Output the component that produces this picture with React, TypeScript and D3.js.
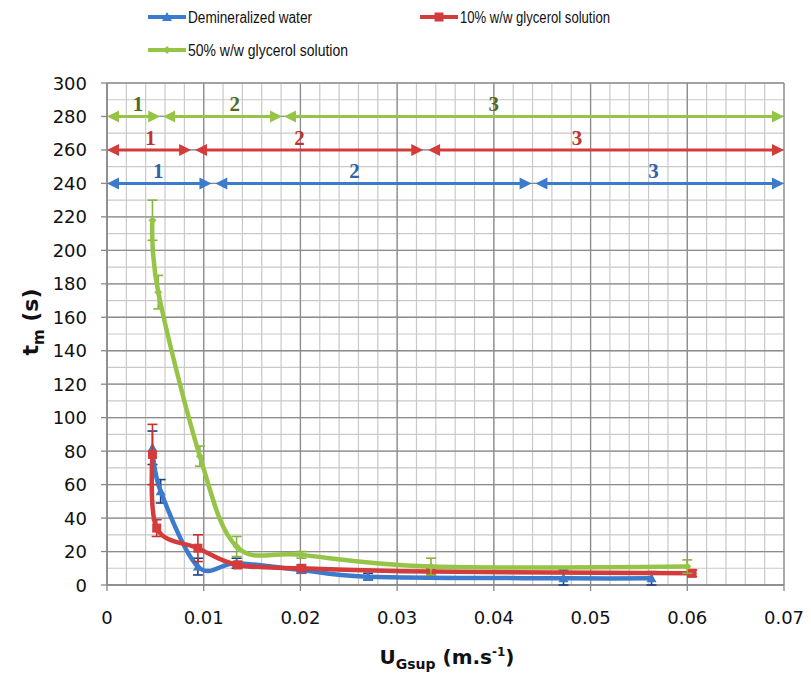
import React from "react";
import * as d3 from "d3";

// ---- data ----
const blueX = [0.0047, 0.00555, 0.0094, 0.0134, 0.0201, 0.027, 0.0472, 0.0563];
const blueY = [82, 56, 11, 13, 9, 5, 4, 4];
const blueErr = [10, 7, 5, 3, 2, 2, 5, 4];

const redX = [0.0047, 0.00514, 0.0094, 0.0135, 0.0201, 0.0335, 0.0605];
const redY = [78, 34, 22, 12, 10, 8, 7];
const redErr = [18, 5, 8, 2, 2, 2, 2];

const greenX = [0.0047, 0.0053, 0.0096, 0.0134, 0.0201, 0.0335, 0.06];
const greenY = [218, 175, 77, 23, 18, 11, 11];
const greenErr = [12, 10, 6, 6, 2, 5, 4];

const xTicks = [0, 0.01, 0.02, 0.03, 0.04, 0.05, 0.06, 0.07];
const yTicks = [0, 20, 40, 60, 80, 100, 120, 140, 160, 180, 200, 220, 240, 260, 280, 300];

const seriesNames = ["Demineralized water", "10% w/w glycerol solution", "50% w/w glycerol solution"];

// regime arrows: level, segments, label positions
const greenLevel = 280;
const greenSegs = [[0, 0.0055], [0.0058, 0.0181], [0.0183, 0.07]];
const greenLabelX = [0.0032, 0.0132, 0.04];
const redLevel = 260;
const redSegs = [[0, 0.0087], [0.0091, 0.0327], [0.0332, 0.07]];
const redLabelX = [0.0045, 0.0199, 0.0486];
const blueLevel = 240;
const blueSegs = [[0, 0.0108], [0.0112, 0.0439], [0.0443, 0.07]];
const blueLabelX = [0.0053, 0.0256, 0.0565];
const regimeLabels = ["1", "2", "3"];

const W = 811, H = 676;
const X0 = 107, X1 = 784, Y0 = 585, Y1 = 83;

const BLUE = "#3c7bcc";
const RED = "#d33c3a";
const GREEN = "#96c447";

export default function App() {
  const x = d3.scaleLinear().domain([0, 0.07]).range([X0, X1]);
  const y = d3.scaleLinear().domain([0, 300]).range([Y0, Y1]);

  const minorX = d3.range(0, 0.07 + 1e-9, 0.002);
  const minorY = d3.range(0, 301, 10);

  const line = d3
    .line<[number, number]>()
    .x((d) => x(d[0]))
    .y((d) => y(d[1]))
    .curve(d3.curveCardinal.tension(0));

  const series = [
    { xs: blueX, ys: blueY, err: blueErr, color: BLUE, errColor: "#1f3f80", marker: "tri" },
    { xs: redX, ys: redY, err: redErr, color: RED, errColor: "#c8302c", marker: "sq" },
    { xs: greenX, ys: greenY, err: greenErr, color: GREEN, errColor: "#86b43c", marker: "dia" },
  ];

  const arrows = [
    { level: blueLevel, segs: blueSegs, lx: blueLabelX, color: BLUE, tcolor: "#2f63a8" },
    { level: redLevel, segs: redSegs, lx: redLabelX, color: RED, tcolor: "#bf3330" },
    { level: greenLevel, segs: greenSegs, lx: greenLabelX, color: GREEN, tcolor: "#4f6b22" },
  ];

  const marker = (type: string, cx: number, cy: number, color: string, key: string) => {
    if (type === "tri") {
      const s = 5;
      return <path key={key} d={`M${cx},${cy - s}L${cx + s},${cy + s * 0.8}L${cx - s},${cy + s * 0.8}Z`} fill={color} />;
    }
    if (type === "sq") {
      const s = 4.5;
      return <rect key={key} x={cx - s} y={cy - s} width={2 * s} height={2 * s} fill={color} />;
    }
    const s = 4;
    return <path key={key} d={`M${cx},${cy - s}L${cx + s},${cy}L${cx},${cy + s}L${cx - s},${cy}Z`} fill={color} />;
  };

  const arrowHead = (tipX: number, yy: number, dir: number, color: string, key: string) => {
    const L = 12, hw = 6;
    return <path key={key} d={`M${tipX},${yy}L${tipX - dir * L},${yy - hw}L${tipX - dir * L},${yy + hw}Z`} fill={color} />;
  };

  const legendFont = "'Liberation Sans Narrow', 'Arial Narrow', 'Liberation Sans', sans-serif";

  return (
    <svg width={W} height={H} style={{ position: "absolute", left: 0, top: 0, background: "#fff" }}>
      <rect width={W} height={H} fill="#fff" />
      {/* minor grid */}
      {minorX.map((v, i) => (
        <line key={"mx" + i} x1={x(v)} x2={x(v)} y1={Y1} y2={Y0} stroke="#c9c9c9" strokeWidth={1.2} />
      ))}
      {minorY.map((v, i) => (
        <line key={"my" + i} x1={X0} x2={X1} y1={y(v)} y2={y(v)} stroke="#c9c9c9" strokeWidth={1.2} />
      ))}
      {/* major grid */}
      {xTicks.map((v, i) => (
        <line key={"Mx" + i} x1={x(v)} x2={x(v)} y1={Y1} y2={Y0} stroke="#8c8c8c" strokeWidth={1.3} />
      ))}
      {yTicks.map((v, i) => (
        <line key={"My" + i} x1={X0} x2={X1} y1={y(v)} y2={y(v)} stroke="#8c8c8c" strokeWidth={1.3} />
      ))}
      {/* axes */}
      <line x1={X0} x2={X0} y1={Y1} y2={Y0} stroke="#888" strokeWidth={1.5} />
      <line x1={X0} x2={X1} y1={Y0} y2={Y0} stroke="#888" strokeWidth={1.5} />
      {yTicks.map((v, i) => (
        <line key={"yt" + i} x1={X0 - 6} x2={X0} y1={y(v)} y2={y(v)} stroke="#888" strokeWidth={1.3} />
      ))}
      {xTicks.map((v, i) => (
        <line key={"xt" + i} x1={x(v)} x2={x(v)} y1={Y0} y2={Y0 + 6} stroke="#888" strokeWidth={1.3} />
      ))}
      {yTicks.map((v, i) => (
        <text key={"yl" + i} x={87} y={y(v) + 6.5} textAnchor="end" fontFamily="'DejaVu Sans', Verdana, sans-serif" fontSize={18} fill="#111">
          {v}
        </text>
      ))}
      {xTicks.map((v, i) => (
        <text key={"xl" + i} x={x(v)} y={624} textAnchor="middle" fontFamily="'DejaVu Sans', Verdana, sans-serif" fontSize={18} fill="#111">
          {v === 0 ? "0" : v.toFixed(2)}
        </text>
      ))}
      {/* axis titles */}
      <text transform="translate(38,322) rotate(-90)" textAnchor="middle" fontFamily="'DejaVu Sans', Verdana, sans-serif" fontWeight="bold" fontSize={22} fill="#111">
        t<tspan fontSize={15} dy={6}>m</tspan>
        <tspan dy={-6}> (s)</tspan>
      </text>
      <text x={447} y={664} textAnchor="middle" fontFamily="'DejaVu Sans', Verdana, sans-serif" fontWeight="bold" fontSize={20} fill="#111">
        U<tspan fontSize={14} dy={5}>Gsup</tspan>
        <tspan dy={-5}> (m.s</tspan>
        <tspan fontSize={12} dy={-8}>-1</tspan>
        <tspan dy={8}>)</tspan>
      </text>

      {/* regime arrows */}
      {arrows.map((a, ai) => (
        <g key={"ar" + ai}>
          {a.segs.map((s, si) => {
            const yy = y(a.level);
            const xa = x(s[0]), xb = x(s[1]);
            return (
              <g key={"seg" + si}>
                <line x1={xa + 6} x2={xb - 6} y1={yy} y2={yy} stroke={a.color} strokeWidth={3} />
                {arrowHead(xa, yy, -1, a.color, "l")}
                {arrowHead(xb, yy, 1, a.color, "r")}
              </g>
            );
          })}
          {a.lx.map((lv, li) => (
            <text key={"lab" + li} x={x(lv)} y={y(a.level) - 5} textAnchor="middle" fontFamily="'Liberation Serif', 'DejaVu Serif', serif" fontWeight="bold" fontSize={21} fill={a.tcolor}>
              {regimeLabels[li]}
            </text>
          ))}
        </g>
      ))}

      {/* series */}
      {series.map((s, si) => {
        const pts: [number, number][] = s.xs.map((v, i) => [v, s.ys[i]]);
        return (
          <g key={"s" + si}>
            {pts.map((p, i) => {
              const cx = x(p[0]);
              const top = y(p[1] + s.err[i]);
              const bot = y(Math.max(0, p[1] - s.err[i]));
              return (
                <g key={"e" + i}>
                  <line x1={cx} x2={cx} y1={top} y2={bot} stroke={s.errColor} strokeWidth={1.6} />
                  <line x1={cx - 5} x2={cx + 5} y1={top} y2={top} stroke={s.errColor} strokeWidth={1.6} />
                  <line x1={cx - 5} x2={cx + 5} y1={bot} y2={bot} stroke={s.errColor} strokeWidth={1.6} />
                </g>
              );
            })}
            <path d={line(pts) || ""} fill="none" stroke={s.color} strokeWidth={4.5} strokeLinejoin="round" strokeLinecap="round" />
            {pts.map((p, i) => marker(s.marker, x(p[0]), y(p[1]), s.color, "m" + i))}
          </g>
        );
      })}

      {/* legend */}
      {[
        { lx: 148, ly: 17, color: BLUE, m: "tri", name: seriesNames[0], tl: 124 },
        { lx: 420, ly: 17, color: RED, m: "sq", name: seriesNames[1], tl: 150 },
        { lx: 148, ly: 50, color: GREEN, m: "dia", name: seriesNames[2], tl: 160 },
      ].map((l, i) => (
        <g key={"lg" + i}>
          <line x1={l.lx} x2={l.lx + 38} y1={l.ly} y2={l.ly} stroke={l.color} strokeWidth={4} />
          {marker(l.m, l.lx + 19, l.ly, l.color, "lm")}
          <text x={l.lx + 40} y={l.ly + 5.5} fontFamily={legendFont} fontSize={16} fill="#111" textLength={l.tl} lengthAdjust="spacingAndGlyphs">
            {l.name}
          </text>
        </g>
      ))}
    </svg>
  );
}
